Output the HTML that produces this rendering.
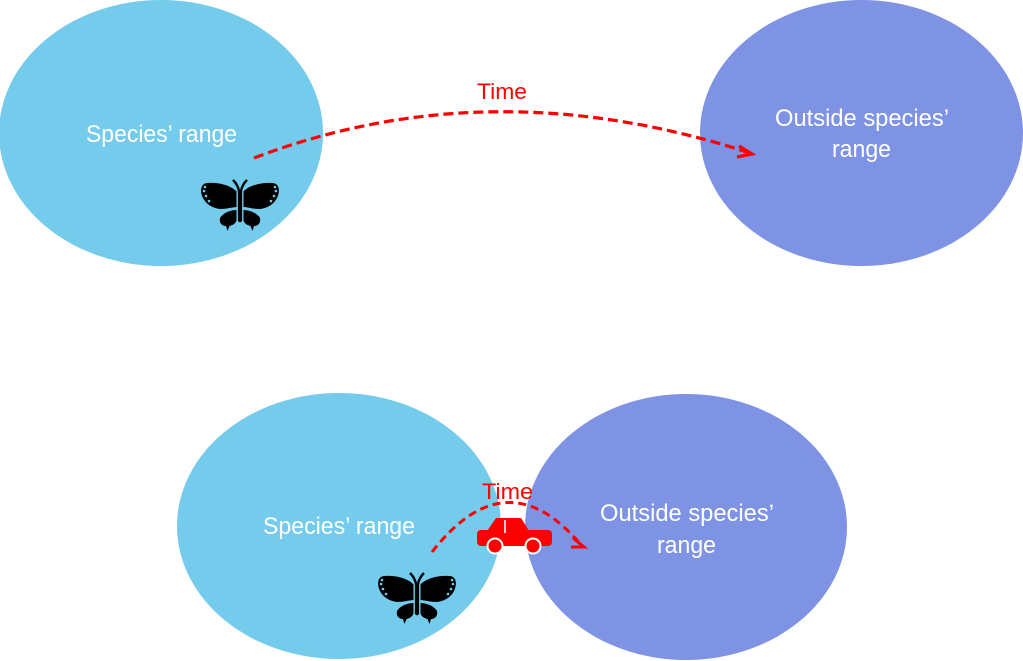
<!DOCTYPE html>
<html>
<head>
<meta charset="utf-8">
<style>
  html, body { margin: 0; padding: 0; background: #ffffff; }
  body { width: 1023px; height: 661px; overflow: hidden; }
  svg { display: block; }
  .lbl { font-family: "Liberation Sans", sans-serif; font-size: 24px; fill: #ffffff; }
  .time { font-family: "Liberation Sans", sans-serif; font-size: 22px; fill: #ff0000; }
</style>
</head>
<body>
<svg width="1023" height="661" viewBox="0 0 1023 661" xmlns="http://www.w3.org/2000/svg">
  <defs>
    <g id="bfly">
      <!-- upper wings -->
      <path d="M -3,12 C -8,6 -20,2 -33,3 C -40,4 -40,12 -37,18 C -34,24 -28,28 -20,29 C -13,29 -7,27 -3,27 Z" fill="#000"/>
      <path d="M 3,12 C 8,6 20,2 33,3 C 40,4 40,12 37,18 C 34,24 28,28 20,29 C 13,29 7,27 3,27 Z" fill="#000"/>
      <!-- lower wings -->
      <path d="M -3,30 C -10,30 -17,33 -20,38 C -21,43 -18,46 -14,46 L -12.5,51 L -10.5,46 C -6,45 -3,42 -3,38 Z" fill="#000"/>
      <path d="M 3,30 C 10,30 17,33 20,38 C 21,43 18,46 14,46 L 12.5,51 L 10.5,46 C 6,45 3,42 3,38 Z" fill="#000"/>
      <!-- body -->
      <rect x="-2.8" y="9" width="5.6" height="34" rx="2.8" fill="#000" stroke="#75cbec" stroke-width="1.4"/>
      <!-- antennae -->
      <path d="M -7,0 Q -2,5 -1,11" fill="none" stroke="#000" stroke-width="2.4"/>
      <path d="M 7,0 Q 2,5 1,11" fill="none" stroke="#000" stroke-width="2.4"/>
      <!-- wing dots -->
      <g fill="#75cbec">
        <circle cx="-35" cy="7" r="1.3"/><circle cx="-36" cy="11" r="1.3"/>
        <circle cx="-34" cy="16" r="1.3"/><circle cx="-31" cy="21" r="1.3"/>
        <circle cx="35" cy="7" r="1.3"/><circle cx="36" cy="11" r="1.3"/>
        <circle cx="34" cy="16" r="1.3"/><circle cx="31" cy="21" r="1.3"/>
      </g>
    </g>
  </defs>

  <!-- top ellipses -->
  <ellipse cx="161" cy="133" rx="162" ry="133" fill="#75cbec"/>
  <ellipse cx="861.5" cy="133" rx="161.5" ry="133" fill="#7f93e4"/>

  <!-- bottom ellipses -->
  <ellipse cx="339" cy="526" rx="162" ry="133" fill="#75cbec"/>
  <ellipse cx="686" cy="527" rx="161" ry="133" fill="#7f93e4"/>

  <!-- labels -->
  <text class="lbl" x="86" y="142" textLength="151" lengthAdjust="spacingAndGlyphs">Species’ range</text>
  <text class="lbl" x="775" y="126" textLength="174" lengthAdjust="spacingAndGlyphs">Outside species’</text>
  <text class="lbl" x="832" y="157" textLength="59" lengthAdjust="spacingAndGlyphs">range</text>

  <text class="lbl" x="263" y="534" textLength="152" lengthAdjust="spacingAndGlyphs">Species’ range</text>
  <text class="lbl" x="600" y="521" textLength="174" lengthAdjust="spacingAndGlyphs">Outside species’</text>
  <text class="lbl" x="657" y="553" textLength="59" lengthAdjust="spacingAndGlyphs">range</text>

  <!-- top arrow -->
  <path d="M254,158 Q490,68 750,153" fill="none" stroke="#ff0000" stroke-width="3.2" stroke-dasharray="10 5"/>
  <polyline points="739,146 752,154 737,157" fill="none" stroke="#ff0000" stroke-width="3.2" stroke-linejoin="miter"/>
  <text class="time" x="477" y="99" textLength="50" lengthAdjust="spacingAndGlyphs">Time</text>

  <!-- butterflies -->
  <use href="#bfly" transform="translate(240,180)"/>
  <use href="#bfly" transform="translate(417,573)"/>

  <!-- bottom arrow -->
  <path d="M432,552 Q507,456 582,546" fill="none" stroke="#ff0000" stroke-width="3" stroke-dasharray="8 5"/>
  <polyline points="573,538 584,547 571,547" fill="none" stroke="#ff0000" stroke-width="3"/>
  <text class="time" x="482" y="499" textLength="51" lengthAdjust="spacingAndGlyphs">Time</text>

  <!-- car -->
  <g>
    <polygon points="485,534 496,518 521,518 531,534" fill="#ff0000"/>
    <rect x="477" y="530" width="75" height="16" rx="4" fill="#ff0000"/>
    <line x1="505" y1="520" x2="505" y2="533" stroke="#ffffff" stroke-width="1.6"/>
    <circle cx="495" cy="546" r="7.5" fill="#ff0000" stroke="#ffffff" stroke-width="2"/>
    <circle cx="533" cy="546" r="7.5" fill="#ff0000" stroke="#ffffff" stroke-width="2"/>
  </g>
</svg>
</body>
</html>
